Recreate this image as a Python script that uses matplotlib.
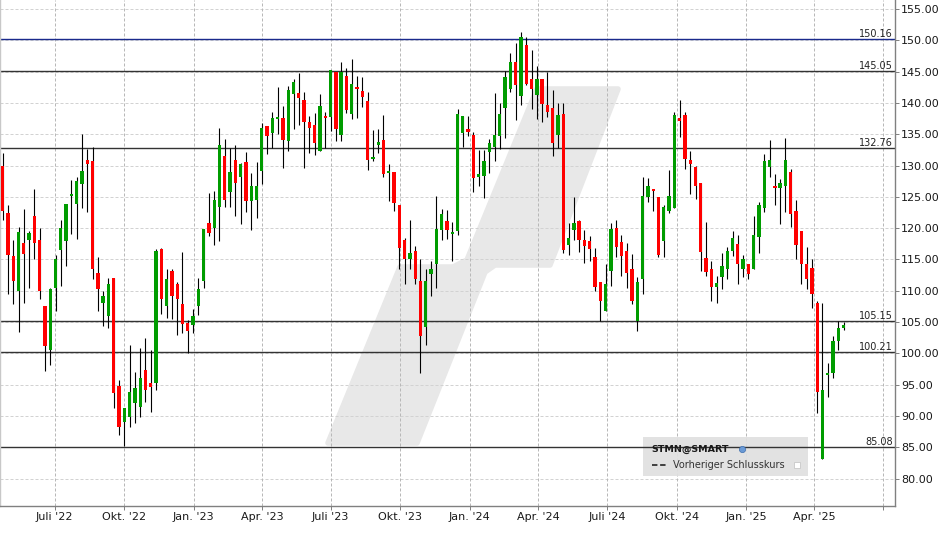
import numpy as np
import pandas as pd
import matplotlib
matplotlib.use('Agg')
import matplotlib.pyplot as plt
import matplotlib.dates as mdates
from matplotlib.patches import Polygon, Rectangle

# weekly OHLC (first bar = week of 23 Apr 2022)
opens = [
    129.9, 122.4, 115.6, 109.9, 117.7, 118.1, 122.0, 118.1, 107.6, 100.5,
    110.5, 116.5, 118.0, 125.1, 123.9, 127.1, 130.9, 130.7, 112.9, 108.1,
    106.0, 112.1, 94.7, 89.0, 89.9, 92.0, 91.4, 97.3, 95.2, 95.2,
    116.7, 107.6, 113.2, 111.1, 107.8, 104.9, 104.6, 107.6, 111.6, 120.85,
    120.0, 123.4, 131.5, 125.8, 130.9, 128.2, 130.6, 124.3, 124.5, 129.1,
    136.3, 135.2, 137.4, 137.6, 133.9, 141.4, 141.6, 140.4, 136.9, 136.5,
    132.3, 137.9, 137.7, 144.9, 134.9, 144.3, 138.2, 142.5, 141.9, 140.3,
    131.0, 133.3, 134.1, 128.8, 129.0, 123.7, 118.1, 115.0, 116.4, 111.6,
    104.2, 112.7, 114.2, 119.7, 121.2, 119.1, 119.6, 135.2, 135.8, 134.9,
    128.2, 128.3, 132.2, 133.0, 134.7, 139.2, 142.2, 146.5, 141.1, 149.2,
    143.9, 141.2, 143.9, 139.6, 139.2, 134.9, 138.2, 117.3, 119.7, 121.2,
    118.1, 118.0, 115.4, 111.45, 106.8, 113.2, 120.0, 117.8, 116.4, 113.5,
    105.2, 111.8, 125.0, 126.3, 125.0, 118.0, 122.8, 123.2, 137.6, 138.05,
    130.9, 129.8, 127.2, 115.3, 113.5, 110.65, 112.2, 113.5, 116.4, 117.5,
    113.5, 114.3, 113.5, 118.6, 123.2, 129.8, 126.7, 126.4, 126.7, 129.0,
    122.8, 119.6, 114.3, 113.7, 108.1, 83.1, 96.5, 96.8, 101.9, 104.0,
]
closes = [
    122.8, 115.75, 111.6, 119.4, 115.9, 119.25, 117.7, 109.9, 101.1, 110.2,
    115.1, 120.0, 123.9, 125.5, 127.5, 129.1, 130.2, 113.4, 110.3, 109.1,
    111.0, 93.6, 88.3, 91.2, 93.9, 94.4, 96.0, 94.1, 94.6, 116.4,
    108.6, 111.9, 109.1, 108.6, 104.75, 103.6, 106.0, 110.3, 119.9, 119.25,
    124.5, 133.3, 124.5, 129.0, 127.2, 130.2, 124.3, 126.7, 126.7, 136.0,
    134.7, 137.6, 137.7, 134.1, 142.0, 143.3, 140.8, 136.9, 136.0, 133.6,
    139.5, 137.6, 145.2, 135.8, 144.9, 138.8, 143.1, 142.2, 140.9, 130.9,
    131.4, 133.75, 128.65, 129.1, 124.0, 116.9, 115.0, 116.1, 111.9, 102.7,
    111.6, 113.4, 119.9, 122.3, 119.7, 119.4, 138.2, 137.9, 135.3, 128.0,
    128.65, 130.7, 133.6, 134.9, 138.2, 144.1, 146.5, 142.8, 150.6, 143.1,
    142.2, 143.9, 139.8, 138.5, 133.6, 138.05, 116.5, 118.45, 120.85, 118.1,
    117.2, 116.7, 110.65, 108.4, 111.1, 119.9, 117.0, 115.6, 112.9, 108.4,
    111.45, 125.1, 126.7, 125.9, 115.75, 123.4, 125.1, 138.05, 137.1, 131.0,
    130.2, 126.7, 116.2, 113.0, 110.65, 111.3, 114.0, 116.4, 118.45, 114.2,
    115.0, 112.6, 118.9, 123.7, 130.7, 130.9, 126.4, 127.2, 130.9, 122.3,
    117.3, 114.2, 111.9, 109.4, 93.8, 94.2, 96.8, 101.9, 104.1, 104.5,
]
highs = [
    132.0, 123.7, 118.1, 120.2, 123.1, 119.6, 126.3, 120.0, 107.6, 110.5,
    115.75, 121.3, 123.9, 127.7, 128.2, 135.0, 132.6, 133.0, 115.4, 109.9,
    112.1, 112.1, 95.8, 91.2, 101.25, 96.95, 100.8, 102.4, 100.6, 116.7,
    116.9, 113.4, 113.4, 111.45, 116.2, 105.4, 107.1, 112.1, 119.9, 125.6,
    125.9, 136.0, 134.2, 132.8, 133.3, 130.4, 132.2, 128.8, 130.6, 136.8,
    136.3, 138.5, 142.5, 139.5, 142.7, 143.8, 144.7, 141.7, 137.9, 138.4,
    141.4, 138.5, 145.2, 144.9, 146.5, 145.5, 147.0, 144.3, 144.1, 141.7,
    135.7, 135.8, 138.05, 130.2, 129.0, 123.7, 118.45, 121.3, 117.2, 115.1,
    113.4, 114.8, 125.1, 123.1, 122.9, 121.0, 139.0, 137.9, 137.9, 135.3,
    132.5, 132.5, 134.2, 141.6, 140.0, 145.1, 147.9, 149.5, 151.4, 150.6,
    148.4, 145.9, 143.9, 144.9, 142.0, 140.0, 140.0, 120.85, 125.0, 121.3,
    119.7, 118.8, 116.9, 111.45, 114.3, 120.85, 121.3, 118.9, 117.7, 115.9,
    112.2, 128.2, 128.0, 126.3, 125.0, 123.7, 129.3, 138.5, 140.4, 138.5,
    132.3, 129.9, 127.2, 121.0, 114.8, 112.4, 116.1, 117.0, 119.6, 118.9,
    115.75, 114.3, 122.0, 124.2, 131.8, 134.1, 128.65, 127.9, 134.4, 129.4,
    124.5, 119.6, 117.0, 115.0, 108.4, 108.1, 98.5, 102.7, 105.1, 105.0,
]
lows = [
    121.3, 109.5, 107.9, 103.4, 108.1, 110.5, 115.0, 108.7, 97.1, 98.2,
    106.8, 110.8, 114.0, 119.1, 118.3, 123.2, 122.6, 111.9, 106.8, 104.3,
    104.0, 91.2, 86.9, 85.2, 88.3, 88.8, 89.8, 92.3, 90.7, 94.1,
    106.3, 105.7, 105.55, 103.0, 103.2, 100.1, 103.2, 106.2, 110.5, 118.8,
    117.3, 118.0, 123.4, 123.4, 122.0, 120.7, 122.6, 119.7, 121.6, 127.1,
    131.8, 132.8, 135.0, 129.6, 132.3, 135.8, 136.5, 129.6, 132.0, 131.7,
    132.3, 132.8, 135.5, 133.9, 133.9, 138.4, 137.4, 137.6, 139.3, 129.3,
    130.7, 132.0, 128.2, 124.35, 122.8, 113.5, 111.1, 113.5, 111.0, 96.9,
    101.3, 109.1, 110.5, 118.1, 118.3, 114.8, 118.9, 133.0, 134.7, 125.8,
    126.7, 124.8, 128.8, 130.7, 132.6, 134.4, 141.7, 137.3, 139.6, 142.8,
    139.0, 137.4, 136.9, 137.7, 131.5, 132.8, 116.1, 115.75, 118.1, 116.2,
    114.5, 114.8, 109.9, 105.1, 106.7, 110.8, 115.4, 112.4, 110.5, 107.8,
    103.5, 109.5, 124.2, 122.8, 115.4, 115.4, 122.4, 123.2, 134.5, 129.4,
    125.5, 124.7, 113.2, 112.4, 108.3, 108.1, 110.3, 111.9, 115.6, 111.1,
    112.2, 111.9, 113.5, 116.1, 122.6, 128.2, 123.7, 120.7, 122.6, 120.2,
    115.0, 111.1, 110.3, 107.3, 90.4, 83.1, 93.0, 96.0, 100.5, 103.8,
]

levels = [150.16, 145.05, 132.76, 105.15, 100.21, 85.08]
level_colors = ['#1a2a8c', '#333333', '#333333', '#333333', '#333333', '#333333']

tick_dates = ['2022-07-01', '2022-10-01', '2023-01-01', '2023-04-01', '2023-07-01',
              '2023-10-01', '2024-01-01', '2024-04-01', '2024-07-01', '2024-10-01',
              '2025-01-01', '2025-04-01', '2025-07-01']
tick_labels = ["Juli '22", "Okt. '22", "Jan. '23", "Apr. '23", "Juli '23",
               "Okt. '23", "Jan. '24", "Apr. '24", "Juli '24", "Okt. '24",
               "Jan. '25", "Apr. '25", ""]
price_ticks = list(range(80, 160, 5))

W, H = 948, 534
fig = plt.figure(figsize=(W / 100, H / 100), dpi=100)
ax = fig.add_axes([0, 28 / H, 895 / W, 506 / H])

o = np.array(opens)
c = np.array(closes)
x = mdates.date2num(pd.date_range('2022-04-23', periods=len(o), freq='7D'))

# gridlines
for v in price_ticks:
    ax.axhline(v, color='#d2d2d2', lw=0.72, ls=(0, (3, 2)), zorder=1)
xt = mdates.date2num(pd.to_datetime(tick_dates))
for t in xt:
    ax.axvline(t, color='#b8b8b8', lw=0.72, ls=(0, (3, 2)), zorder=1)

# watermark logo (axes-pixel outline)
px = [(328, 443), (417, 443), (485, 272), (495, 265), (550, 265), (618, 89),
      (537, 89), (467, 260), (453, 267), (400, 267)]
logo = Polygon([(a / 895, 1 - b / 506) for a, b in px], closed=True,
               transform=ax.transAxes, fc='#e8e8e8', ec='#e8e8e8', lw=4,
               joinstyle='round', zorder=0.5)
ax.add_patch(logo)

# horizontal levels
for lv, col in zip(levels, level_colors):
    ax.axhline(lv, color=col, lw=1.0, zorder=2)
    ax.annotate(f'{lv:.2f}', xy=(1, lv), xycoords=('axes fraction', 'data'),
                xytext=(-2, 0), textcoords='offset pixels', ha='right', va='bottom',
                fontsize=7, color='#222222', zorder=5)

# candles
cols = np.where(c >= o, '#009c00', '#ff0000')
ax.vlines(x, lows, highs, color='black', lw=0.8, zorder=3)
ax.bar(x, np.maximum(np.abs(c - o), 0.12), bottom=np.minimum(o, c), width=4.4,
       color=cols, lw=0, zorder=4)

ax.set_xlim(mdates.date2num(pd.Timestamp('2022-04-19 12:00')),
            mdates.date2num(pd.Timestamp('2025-07-17')))
ax.set_ylim(75.61, 156.44)

ax.set_xticks(xt)
ax.set_xticklabels(tick_labels)
ax.yaxis.tick_right()
ax.set_yticks(price_ticks)
ax.set_yticklabels([f'{v:.2f}' for v in price_ticks])
ax.tick_params(axis='x', length=3, width=0.7, color='#808080', pad=1.5,
               labelsize=8, labelcolor='#1a1a1a')
ax.tick_params(axis='y', length=3, width=0.7, color='#808080', pad=1.5,
               labelsize=8, labelcolor='#1a1a1a')

ax.spines['top'].set_visible(False)
ax.spines['left'].set_color('#c8c8c8')
ax.spines['bottom'].set_color('#808080')
ax.spines['right'].set_color('#808080')
for s in ['left', 'bottom', 'right']:
    ax.spines[s].set_linewidth(1.0)

# legend box
box = Rectangle((643 / 895, 1 - 476 / 506), 165 / 895, 39 / 506,
                transform=ax.transAxes, fc='#e0e0e0', ec='none', alpha=0.92, zorder=1.5)
ax.add_patch(box)
ax.text(651 / 895, 1 - 449 / 506, 'STMN@SMART', transform=ax.transAxes,
        fontsize=6.8, fontweight='bold', color='#1a1a1a', va='center', ha='left', zorder=6)
ax.plot([742 / 895], [1 - 449 / 506], 'o', ms=4.5, color='#6a9ad6', mec='#3f6fae',
        mew=0.5, transform=ax.transAxes, zorder=6)
ax.plot([652 / 895, 668 / 895], [1 - 465 / 506] * 2, ls=(0, (3, 1.5)), color='#333333',
        lw=1.3, transform=ax.transAxes, zorder=6)
ax.text(673 / 895, 1 - 465 / 506, 'Vorheriger Schlusskurs', transform=ax.transAxes,
        fontsize=7, color='#333333', va='center', ha='left', zorder=6)
ax.plot([797 / 895], [1 - 465 / 506], 's', ms=4.5, mfc='white', mec='#c8c8c8', mew=0.6,
        transform=ax.transAxes, zorder=6)

fig.savefig('out.png', dpi=100)
